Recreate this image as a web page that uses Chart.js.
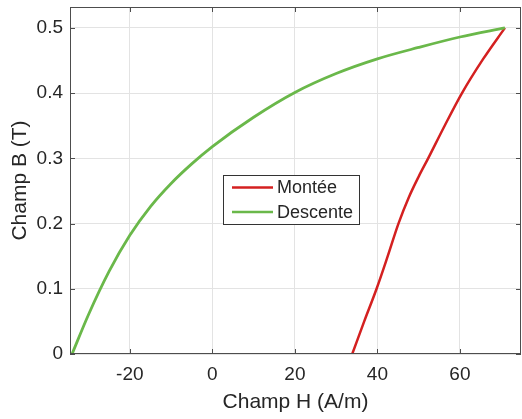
<!DOCTYPE html>
<html>
<head>
<meta charset="utf-8">
<script src="https://cdn.jsdelivr.net/npm/chart.js@4"></script>
<style>
  html, body { margin: 0; padding: 0; background: #fff; }
  #wrap { width: 522px; height: 419px; }
</style>
</head>
<body>
<div id="wrap"><canvas id="hyst" width="522" height="419"></canvas></div>
<script>
// Values
const monteeH = [33.9, 36.8, 39.8, 42.5, 45.1, 47.6, 50.0, 52.3, 56.3, 60.5, 65.6, 70.9];
const monteeB = [0, 0.05, 0.1, 0.15, 0.2, 0.24, 0.272, 0.3, 0.35, 0.4, 0.452, 0.5];
const descenteH = [-34, -30, -25, -20, -15, -10, -5, 0, 10, 20, 30, 40, 50, 60, 70.9];
const descenteB = [0, 0.0606, 0.127, 0.182, 0.226, 0.2615, 0.2915, 0.318, 0.363, 0.401, 0.43, 0.4525, 0.47, 0.486, 0.5];
const xTicks = [-20, 0, 20, 40, 60];
const yTicks = [0, 0.1, 0.2, 0.3, 0.4, 0.5];
const seriesNames = ["Montée", "Descente"];

const FONT = "'Liberation Sans', Arial, Helvetica, sans-serif";
const TEXT = "#262626";

function toPoints(xs, ys) {
  return xs.map((x, i) => ({ x: x, y: ys[i] }));
}

// no extra room for half labels at the ends of the axes
function noEdgePadding(s) {
  s.paddingTop = 0;
  s.paddingBottom = 0;
  s.paddingLeft = 0;
  s.paddingRight = 0;
}

// Box + inward ticks on all four sides, MATLAB style
const framePlugin = {
  id: "frame",
  afterDatasetsDraw(chart) {
    const ctx = chart.ctx;
    const a = chart.chartArea;
    const xs = chart.scales.x, ys = chart.scales.y;
    ctx.save();
    ctx.strokeStyle = "#4d4d4d";
    ctx.lineWidth = 1;
    ctx.beginPath();
    xTicks.forEach((t) => {
      const px = Math.round(xs.getPixelForValue(t)) + 0.5;
      ctx.moveTo(px, a.bottom); ctx.lineTo(px, a.bottom - 5);
      ctx.moveTo(px, a.top); ctx.lineTo(px, a.top + 5);
    });
    yTicks.forEach((t) => {
      const py = Math.round(ys.getPixelForValue(t)) + 0.5;
      ctx.moveTo(a.left, py); ctx.lineTo(a.left + 5, py);
      ctx.moveTo(a.right, py); ctx.lineTo(a.right - 5, py);
    });
    ctx.stroke();
    ctx.strokeRect(Math.round(a.left) + 0.5, Math.round(a.top) + 0.5,
      Math.round(a.right - a.left) - 1, Math.round(a.bottom - a.top) - 1);
    ctx.restore();
  }
};

// Legend box drawn inside the axes
const legendBox = {
  id: "legendBox",
  afterDraw(chart) {
    const ctx = chart.ctx;
    const bx = 223.5, by = 175.5, bw = 136, bh = 49;
    ctx.save();
    ctx.fillStyle = "#fff";
    ctx.fillRect(bx, by, bw, bh);
    ctx.strokeStyle = "#333";
    ctx.lineWidth = 1;
    ctx.strokeRect(bx, by, bw, bh);
    ctx.font = "18px " + FONT;
    ctx.textBaseline = "middle";
    chart.data.datasets.forEach((ds, i) => {
      const y = 187.5 + i * 24.5;
      ctx.strokeStyle = ds.borderColor;
      ctx.lineWidth = 2.5;
      ctx.beginPath();
      ctx.moveTo(232, y);
      ctx.lineTo(273, y);
      ctx.stroke();
      ctx.fillStyle = TEXT;
      ctx.fillText(ds.label, 277, y + 1);
    });
    ctx.restore();
  }
};

const chart = new Chart(document.getElementById("hyst"), {
  type: "line",
  data: {
    datasets: [
      {
        label: seriesNames[0],
        data: toPoints(monteeH, monteeB),
        borderColor: "#d42020",
        borderWidth: 2.5,
        pointRadius: 0,
        cubicInterpolationMode: "monotone",
        order: 1,
      },
      {
        label: seriesNames[1],
        data: toPoints(descenteH, descenteB),
        borderColor: "#6ab84a",
        borderWidth: 2.8,
        pointRadius: 0,
        cubicInterpolationMode: "monotone",
        order: 0,
      },
    ],
  },
  options: {
    responsive: false,
    animation: false,
    layout: { padding: { top: 7, right: 1, left: 0, bottom: 0 } },
    plugins: {
      legend: { display: false },
      tooltip: { enabled: false },
    },
    scales: {
      x: {
        type: "linear",
        min: -34.5,
        max: 74.8,
        afterBuildTicks: (s) => { s.ticks = xTicks.map((v) => ({ value: v })); },
        afterFit: (s) => { s.height = 65; noEdgePadding(s); },
        grid: { color: "#e3e3e3", drawTicks: false },
        border: { display: false },
        ticks: { color: TEXT, font: { family: FONT, size: 19 }, padding: 9 },
        title: {
          display: true,
          text: "Champ H (A/m)",
          color: TEXT,
          font: { family: FONT, size: 21 },
          padding: { top: 0, bottom: 4 },
        },
      },
      y: {
        type: "linear",
        min: 0,
        max: 0.532,
        afterBuildTicks: (s) => { s.ticks = yTicks.map((v) => ({ value: v })); },
        afterFit: (s) => { s.width = 70; noEdgePadding(s); },
        grid: { color: "#e3e3e3", drawTicks: false },
        border: { display: false },
        ticks: { color: TEXT, font: { family: FONT, size: 19 }, padding: 7 },
        title: {
          display: true,
          text: "Champ B (T)",
          color: TEXT,
          font: { family: FONT, size: 21 },
          padding: { top: 8, bottom: 0 },
        },
      },
    },
  },
  plugins: [framePlugin, legendBox],
});
</script>
</body>
</html>
